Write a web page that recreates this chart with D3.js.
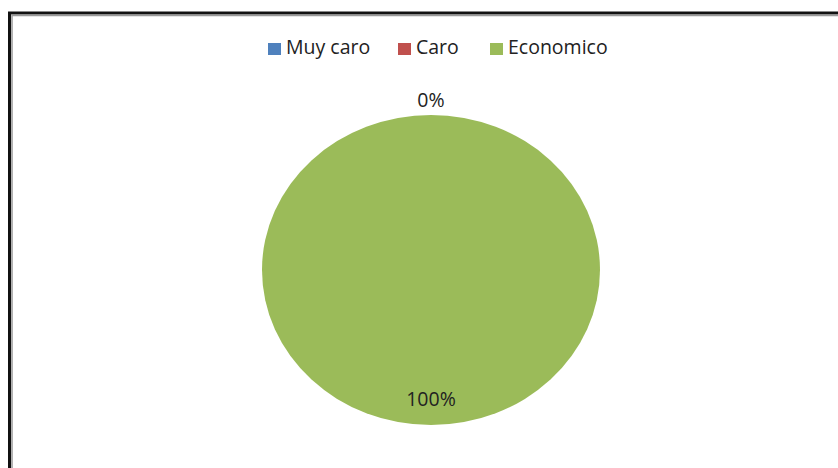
<!DOCTYPE html>
<html>
<head>
<meta charset="utf-8">
<script src="https://cdn.jsdelivr.net/npm/d3@7"></script>
<style>
  body { margin: 0; background: white; }
  text { font-family: "Open Sans", "DejaVu Sans", sans-serif; }
</style>
</head>
<body>
<script>
const width = 838;
const height = 468;

// chart data
const categories = ["Muy caro", "Caro", "Economico"];
const values = [0, 0, 100];
const colors = ["#4F81BD", "#C0504D", "#9BBB59"];

const cx = 431, cy = 270;
const ry = 155, rx = 169;

let svg = d3.select("body")
    .append("svg")
    .attr("width", width)
    .attr("height", height);

// frame (runs off the right and bottom edges)
svg.append("rect")
    .attr("x", 9.5).attr("y", 13)
    .attr("width", 900).attr("height", 500)
    .attr("fill", "white")
    .attr("stroke", "#111")
    .attr("stroke-width", 3);
svg.append("rect")
    .attr("x", 12).attr("y", 15.5)
    .attr("width", 900).attr("height", 500)
    .attr("fill", "none")
    .attr("stroke", "#999")
    .attr("stroke-width", 1.5);

// legend
const legendX = [268, 398, 490];
let legend = svg.selectAll(".leg")
    .data(categories)
    .enter()
    .append("g")
    .attr("class", "leg")
    .attr("transform", (d, i) => `translate(${legendX[i]}, 49)`);
legend.append("rect")
    .attr("x", 0).attr("y", -6)
    .attr("width", 13).attr("height", 12)
    .attr("fill", (d, i) => colors[i]);
legend.append("text")
    .attr("x", 18)
    .attr("y", 5)
    .style("font-size", "19.5px")
    .style("fill", "#222")
    .text(d => d);

// pie
let pie = d3.pie().sort(null).value(d => d);
let arcs = pie(values);
let arc = d3.arc().innerRadius(0).outerRadius(ry);

let pieG = svg.append("g")
    .attr("transform", `translate(${cx}, ${cy}) scale(${rx / ry}, 1)`);
pieG.selectAll("path")
    .data(arcs)
    .enter()
    .append("path")
    .attr("d", arc)
    .attr("fill", (d, i) => colors[i]);

// labels: inside for real slices, outside for empty ones
let total = d3.sum(values);
function labelPos(d) {
    let a = (d.startAngle + d.endAngle) / 2;
    let k = d.value > 0 ? 0.83 : 1.1;
    return [cx + Math.sin(a) * rx * k, cy - Math.cos(a) * ry * k + 7];
}
// empty slices share one spot, keep a single label there
let seen = new Set();
let labelData = arcs.filter(d => {
    let key = labelPos(d).map(Math.round).join(",");
    if (seen.has(key)) return false;
    seen.add(key);
    return true;
});
svg.selectAll(".lbl")
    .data(labelData)
    .enter()
    .append("text")
    .attr("class", "lbl")
    .attr("text-anchor", "middle")
    .attr("x", d => labelPos(d)[0])
    .attr("y", d => labelPos(d)[1])
    .style("font-size", "19.5px")
    .style("fill", "#222")
    .text(d => Math.round(d.value / total * 100) + "%");
</script>
</body>
</html>
